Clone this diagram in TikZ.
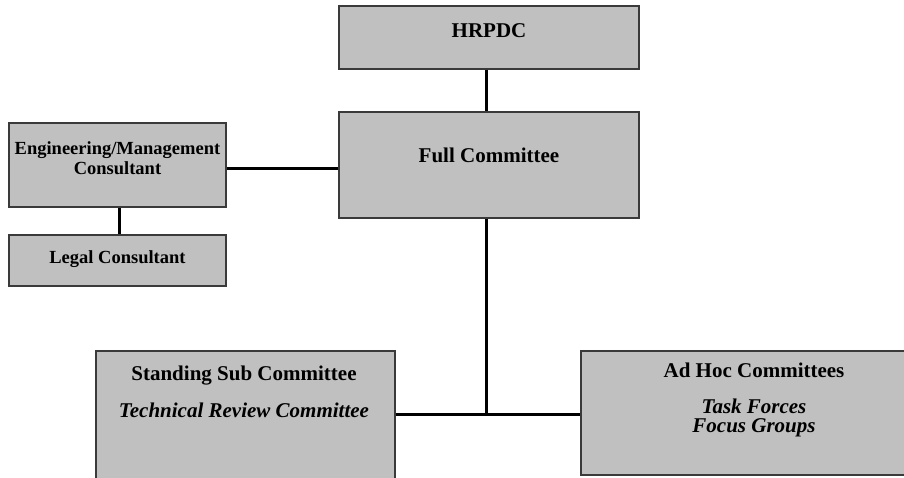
\documentclass[tikz,border=0pt]{standalone}
\usepackage{fontspec}
\setmainfont{Liberation Serif}
\definecolor{boxfill}{HTML}{C0C0C0}
\definecolor{boxline}{HTML}{3A3A3A}
\tikzset{
  orgbox/.style={draw=boxline, line width=1.3pt, fill=boxfill, inner sep=0pt},
  conn/.style={draw=black, line width=3pt},
  big/.style={font=\fontsize{21}{21}\selectfont\bfseries, inner sep=0pt, anchor=base},
  bigit/.style={font=\fontsize{21}{21}\selectfont\bfseries\itshape, inner sep=0pt, anchor=base},
  small/.style={font=\fontsize{18.5}{18.5}\selectfont\bfseries, inner sep=0pt, anchor=base},
}
\begin{document}
\begin{tikzpicture}[x=1pt,y=-1pt]
\clip (0,0) rectangle (904,477);
\fill[white] (0,0) rectangle (904,477);
% boxes
\node[orgbox, minimum width=300pt, minimum height=63pt] (hrpdc) at (489,37.5) {};
\node[orgbox, minimum width=300pt, minimum height=106pt] (full) at (489,165) {};
\node[orgbox, minimum width=217pt, minimum height=84pt] (eng) at (117.5,165) {};
\node[orgbox, minimum width=217pt, minimum height=51pt] (legal) at (117.5,260.5) {};
\node[orgbox, minimum width=299pt, minimum height=160pt] (stand) at (245.5,431) {};
\node[orgbox, minimum width=340pt, minimum height=124pt] (adhoc) at (751,413) {};
% junction points
\coordinate (j) at (486,414);
\coordinate (k) at (0,168);
% connectors
\draw[conn] ([xshift=-3pt]hrpdc.south) -- ([xshift=-3pt]full.north);
\draw[conn] (eng.east |- k) -- (full.west |- k);
\draw[conn] ([xshift=1.5pt]eng.south) -- ([xshift=1.5pt]legal.north);
\draw[conn] (full.south -| j) -- (j);
\draw[conn] (stand.east |- j) -- (adhoc.west |- j);
% texts
\node[big] (t1) at (489,37) {HRPDC};
\node[big] (t2) at (489,162) {Full Committee};
\node[small] (t3) at (117.5,154) {Engineering/Management};
\node[small] (t4) at (117.5,174) {Consultant};
\node[small] (t5) at (117.5,263) {Legal Consultant};
\node[big] (t6) at (244,380) {Standing Sub Committee};
\node[bigit] (t7) at (244,417) {Technical Review Committee};
\node[big] (t8) at (754,377) {Ad Hoc Committees};
\node[bigit] (t9) at (754,413) {Task Forces};
\node[bigit] (t10) at (754,432) {Focus Groups};
\end{tikzpicture}
\end{document}
